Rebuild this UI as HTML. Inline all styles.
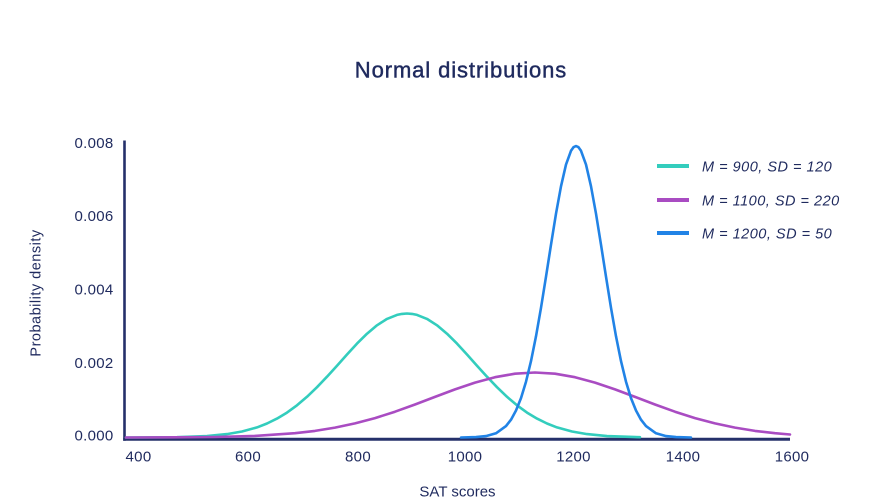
<!DOCTYPE html>
<html>
<head>
<meta charset="utf-8">
<style>
  html, body { margin: 0; padding: 0; background: #ffffff; }
  body { width: 881px; height: 504px; overflow: hidden; }
  svg { display: block; }
  text { font-family: "Liberation Sans", "DejaVu Sans", sans-serif; fill: #1f2a5e; }
</style>
</head>
<body>
<svg width="881" height="504" viewBox="0 0 881 504" xmlns="http://www.w3.org/2000/svg">
  <rect x="0" y="0" width="881" height="504" fill="#ffffff"/>

  <!-- Title -->
  <text x="461" y="77.5" font-size="22" text-anchor="middle" letter-spacing="0.9" stroke="#1f2a5e" stroke-width="0.45">Normal distributions</text>

  <!-- Axes -->
  <line x1="124.5" y1="140.5" x2="124.5" y2="440.7" stroke="#25306a" stroke-width="2.6"/>
  <line x1="123.2" y1="439.2" x2="790" y2="439.2" stroke="#25306a" stroke-width="3"/>

  <!-- Y tick labels -->
  <g font-size="15" text-anchor="end" letter-spacing="0.3">
    <text x="113.5" y="148">0.008</text>
    <text x="113.5" y="221">0.006</text>
    <text x="113.5" y="294.3">0.004</text>
    <text x="113.5" y="368">0.002</text>
    <text x="113.5" y="440.3">0.000</text>
  </g>

  <!-- X tick labels -->
  <g font-size="15" text-anchor="middle" letter-spacing="0.3">
    <text x="138.5" y="461.7">400</text>
    <text x="248" y="461.7">600</text>
    <text x="358" y="461.7">800</text>
    <text x="465" y="461.7">1000</text>
    <text x="573.5" y="461.7">1200</text>
    <text x="683" y="461.7">1400</text>
    <text x="792" y="461.7">1600</text>
  </g>

  <!-- Axis titles -->
  <text x="457.5" y="496.7" font-size="15" text-anchor="middle">SAT scores</text>
  <text transform="translate(40.5,293) rotate(-90)" font-size="14.5" text-anchor="middle" letter-spacing="0.5">Probability density</text>

  <!-- Green: M=900, SD=120 -->
  <path fill="none" stroke="#33cdbd" stroke-width="2.6" stroke-linejoin="round" stroke-linecap="round"
    d="M126,437.5 L177,437.2 L207,436.1 L227,434.1 L242,431.5 L257,427.4 L267,423.5 L277,418.6 L287,412.6 L297,405.3 L307,396.8 L317,387.2 L327,376.7 L337,365.7 L347,354.5 L357,343.6 L367,333.7 L377,325.3 L387,318.9 L397,314.9 L402,313.9 L407,313.5 L412,313.9 L417,314.9 L427,318.9 L437,325.3 L447,333.7 L457,343.6 L467,354.5 L477,365.7 L487,376.7 L497,387.2 L507,396.8 L517,405.3 L527,412.6 L537,418.6 L547,423.5 L557,427.4 L572,431.5 L587,434.1 L607,436.1 L640,437.2"/>

  <!-- Purple: M=1100, SD=220 -->
  <path fill="none" stroke="#a94cc2" stroke-width="2.6" stroke-linejoin="round" stroke-linecap="round"
    d="M126,437.5 L175,437.3 L215,437.0 L255,435.9 L295,433.2 L315,430.9 L335,427.6 L355,423.4 L375,418.1 L395,411.7 L415,404.5 L435,396.9 L455,389.4 L475,382.6 L495,377.2 L515,373.7 L535,372.5 L555,373.7 L575,377.2 L595,382.6 L615,389.4 L635,396.9 L655,404.5 L675,411.7 L695,418.1 L715,423.4 L735,427.6 L755,430.9 L775,433.2 L790,434.5"/>

  <!-- Blue: M=1200, SD=50 -->
  <path fill="none" stroke="#2183e6" stroke-width="2.6" stroke-linejoin="round" stroke-linecap="round"
    d="M461,437.5 L476,437.1 L486,436.1 L496,433.3 L506,426.1 L511,419.7 L516,410.5 L521,398.1 L526,381.7 L531,361.1 L536,336.3 L541,307.8 L546,276.7 L551,244.7 L556,213.7 L561,186.3 L566,164.6 L571,150.8 L573.5,147.2 L576,146 L578.5,147.2 L581,150.8 L586,164.6 L591,186.3 L596,213.7 L601,244.7 L606,276.7 L611,307.8 L616,336.3 L621,361.1 L626,381.7 L631,398.1 L636,410.5 L641,419.7 L646,426.1 L656,433.3 L666,436.1 L676,437.1 L691,437.5"/>

  <!-- Legend -->
  <line x1="657" y1="166" x2="689" y2="166" stroke="#33cdbd" stroke-width="4"/>
  <line x1="657" y1="200" x2="689" y2="200" stroke="#a94cc2" stroke-width="4"/>
  <line x1="657" y1="233" x2="689" y2="233" stroke="#2183e6" stroke-width="4"/>
  <g font-size="14.5" font-style="italic" letter-spacing="0.5">
    <text x="702" y="171.5">M = 900, SD = 120</text>
    <text x="702" y="205.3">M = 1100, SD = 220</text>
    <text x="702" y="238.3">M = 1200, SD = 50</text>
  </g>
</svg>
</body>
</html>
